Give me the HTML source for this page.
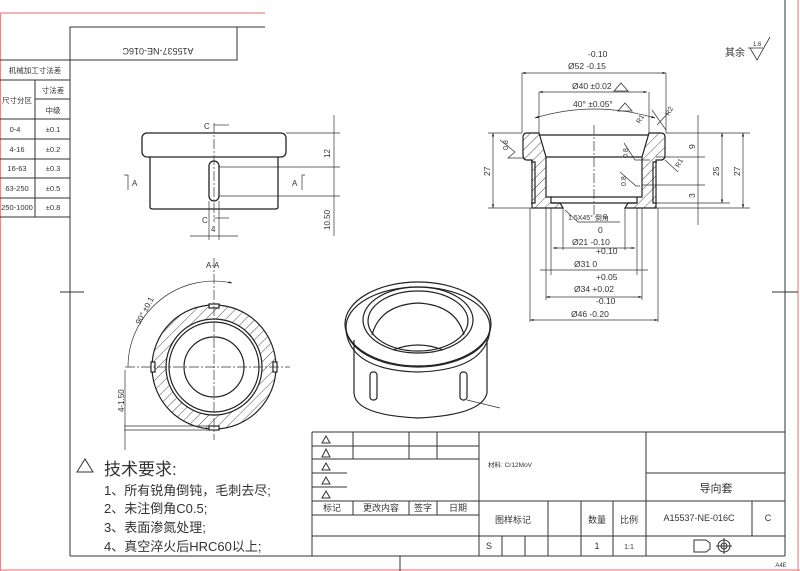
<!DOCTYPE html>
<html><head><meta charset="utf-8"><style>
body{margin:0;background:#fff;width:800px;height:571px;overflow:hidden}
svg{display:block}
text{font-family:"Liberation Sans","Noto Sans CJK SC",sans-serif;fill:#333}
</style></head><body>
<svg width="800" height="571" viewBox="0 0 800 571" xmlns="http://www.w3.org/2000/svg">
<defs>
<pattern id="h" patternUnits="userSpaceOnUse" width="7" height="7" patternTransform="rotate(45)">
<line x1="0" y1="0" x2="0" y2="7" stroke="#222" stroke-width="0.8"/></pattern>
<marker id="ar" viewBox="0 0 10 10" refX="10" refY="5" markerWidth="7" markerHeight="5" orient="auto-start-reverse"><path d="M0,2 L10,5 L0,8z" fill="#111"/></marker>
</defs>
<g fill="none" stroke="#e88" stroke-width="1.2">
<line x1="0" y1="13" x2="265" y2="13"/><line x1="0.5" y1="13" x2="0.5" y2="571"/>
<line x1="798" y1="0" x2="798" y2="571"/><line x1="0" y1="570" x2="800" y2="570"/>
</g>
<g fill="none" stroke="#333" stroke-width="1">
<!-- frame -->
<line x1="70" y1="27" x2="265" y2="27"/><line x1="70" y1="27" x2="70" y2="556"/>
<line x1="785" y1="0" x2="785" y2="556"/><line x1="70" y1="556" x2="785" y2="556"/>
<line x1="60" y1="292" x2="84" y2="292"/><line x1="772" y1="292" x2="798" y2="292"/>
<line x1="400" y1="556" x2="400" y2="571"/>
<rect x="70" y="27" width="167" height="33"/>
<!-- tolerance table -->
<line x1="0" y1="60" x2="70" y2="60"/><line x1="0" y1="80" x2="70" y2="80"/>
<line x1="35" y1="99" x2="70" y2="99"/>
<line x1="0" y1="119" x2="70" y2="119"/><line x1="0" y1="139" x2="70" y2="139"/>
<line x1="0" y1="159" x2="70" y2="159"/><line x1="0" y1="178" x2="70" y2="178"/>
<line x1="0" y1="198" x2="70" y2="198"/><line x1="0" y1="217" x2="70" y2="217"/>
<line x1="35" y1="80" x2="35" y2="217"/>
</g>
<g font-size="7.5" text-anchor="middle">
<text x="35" y="73">机械加工寸法差</text>
<text x="17" y="103">尺寸分区</text><text x="53" y="93">寸法差</text><text x="53" y="113">中级</text>
<text x="15" y="132">0-4</text><text x="53" y="132">±0.1</text>
<text x="17" y="152">4-16</text><text x="53" y="152">±0.2</text>
<text x="17" y="171">16-63</text><text x="53" y="171">±0.3</text>
<text x="17" y="191">63-250</text><text x="53" y="191">±0.5</text>
<text x="17" y="210">250-1000</text><text x="53" y="210">±0.8</text>
</g>
<text x="158" y="42" font-size="9" text-anchor="middle" transform="rotate(180 158 45)">A15537-NE-016C</text>

<!-- front view -->
<g fill="none" stroke="#222" stroke-width="1.3">
<rect x="142" y="133" width="144" height="24" rx="5"/>
<path d="M150,157 V207 Q150,209 153,209 H275 Q278,209 278,207 V157"/>
<rect x="209" y="161" width="10" height="40" rx="5"/>
</g>
<g fill="none" stroke="#333" stroke-width="0.7">
<line x1="214" y1="123" x2="214" y2="222" stroke-dasharray="10,2,2,2"/>
<path d="M214,125 H229"/><path d="M214,218 H229"/>
<line x1="286" y1="133" x2="340" y2="133"/><line x1="219" y1="167" x2="340" y2="167"/>
<line x1="219" y1="196" x2="340" y2="196"/>
<line x1="334" y1="115" x2="334" y2="236"/>
<line x1="209" y1="201" x2="209" y2="240"/><line x1="219" y1="201" x2="219" y2="240"/>
<line x1="190" y1="236" x2="238" y2="236"/>
<path d="M124,175 H128 V190"/><path d="M305,175 H302 V190"/>
</g>
<g font-size="8"><text x="204" y="129">C</text><text x="202" y="223">C</text>
<text x="132" y="186">A</text><text x="292" y="186">A</text><text x="211" y="232">4</text>
<text x="0" y="0" transform="translate(330,158) rotate(-90)">12</text>
<text x="0" y="0" transform="translate(330,230) rotate(-90)">10.50</text></g>

<!-- section view -->
<g stroke="#222" stroke-width="1.2">
<path fill="url(#h)" d="M527,133 H539 L546,157 V197 H551 V203 H560 L563,208 H532 V160 H527 Q523,160 523,155 V137 Q523,133 527,133Z"/>
<path fill="url(#h)" d="M661,133 H649 L642,157 V197 H637 V203 H628 L625,208 H656 V160 H661 Q665,160 665,155 V137 Q665,133 661,133Z"/>
<path fill="none" d="M539,135 H649 M546,157 H642 M551,197 H637 M551,203 H637"/>
<path fill="none" d="M531,162 H535 V203 H531"/><path fill="none" d="M657,162 H653 V203 H657"/>
</g>
<g fill="none" stroke="#333" stroke-width="0.7">
<line x1="594" y1="125" x2="594" y2="215" stroke-dasharray="10,2,2,2"/>
<line x1="522" y1="73" x2="522" y2="133"/><line x1="666" y1="73" x2="666" y2="133"/>
<line x1="522" y1="73" x2="666" y2="73" marker-start="url(#ar)" marker-end="url(#ar)"/>
<line x1="539" y1="92" x2="539" y2="133"/><line x1="649" y1="92" x2="649" y2="133"/>
<line x1="539" y1="92" x2="647" y2="92" marker-start="url(#ar)" marker-end="url(#ar)"/>
<path d="M535,118 Q594,100 655,118" marker-start="url(#ar)" marker-end="url(#ar)"/>
<line x1="488" y1="133" x2="522" y2="133"/><line x1="488" y1="208" x2="532" y2="208"/>
<line x1="493" y1="133" x2="493" y2="208" marker-start="url(#ar)" marker-end="url(#ar)"/>
<line x1="666" y1="133" x2="750" y2="133"/><line x1="656" y1="157" x2="705" y2="157"/>
<line x1="642" y1="185" x2="705" y2="185"/><line x1="656" y1="203" x2="730" y2="203"/>
<line x1="656" y1="208" x2="750" y2="208"/>
<line x1="698" y1="115" x2="698" y2="225"/>
<line x1="722" y1="133" x2="722" y2="203" marker-start="url(#ar)" marker-end="url(#ar)"/>
<line x1="743" y1="133" x2="743" y2="208" marker-start="url(#ar)" marker-end="url(#ar)"/>
<line x1="546" y1="208" x2="546" y2="300"/><line x1="642" y1="208" x2="642" y2="300"/>
<line x1="551" y1="208" x2="551" y2="275"/><line x1="637" y1="208" x2="637" y2="275"/>
<line x1="563" y1="208" x2="563" y2="250"/><line x1="625" y1="208" x2="625" y2="250"/>
<line x1="530" y1="208" x2="530" y2="322"/><line x1="658" y1="208" x2="658" y2="322"/>
<line x1="553" y1="248" x2="635" y2="248" marker-start="url(#ar)" marker-end="url(#ar)"/>
<line x1="540" y1="270" x2="648" y2="270"/>
<line x1="546" y1="297" x2="642" y2="297" marker-start="url(#ar)" marker-end="url(#ar)"/>
<line x1="530" y1="320" x2="658" y2="320" marker-start="url(#ar)" marker-end="url(#ar)"/>
<path d="M565,210 L578,222 H620"/>
<path d="M500,140 L515,152 L508,158 H525"/><path d="M624,143 L635,160 H650"/>
<path d="M620,172 L636,186 H640"/>
<line x1="652" y1="110" x2="666" y2="130"/><line x1="657" y1="125" x2="669" y2="112"/>
<line x1="665" y1="160" x2="678" y2="172"/>
</g>
<g font-size="8.5"><text x="588" y="57">-0.10</text><text x="568" y="69">Ø52 -0.15</text>
<text x="572" y="89">Ø40  ±0.02</text><text x="573" y="107">40°   ±0.05°</text>
<text x="568" y="220" font-size="7">1.5X45° 倒角</text>
<text x="598" y="233">0</text><text x="572" y="245">Ø21 -0.10</text>
<text x="596" y="254">+0.10</text><text x="574" y="267">Ø31  0</text>
<text x="596" y="280">+0.05</text><text x="574" y="292">Ø34 +0.02</text>
<text x="596" y="304">-0.10</text><text x="571" y="317">Ø46 -0.20</text>
<text x="0" y="0" transform="translate(490,176) rotate(-90)">27</text>
<text x="0" y="0" transform="translate(695,149) rotate(-90)">9</text>
<text x="0" y="0" transform="translate(695,198) rotate(-90)">3</text>
<text x="0" y="0" transform="translate(719,176) rotate(-90)">25</text>
<text x="0" y="0" transform="translate(740,176) rotate(-90)">27</text>
<text font-size="7" transform="translate(508,150) rotate(-90)">0.8</text>
<text font-size="7" transform="translate(628,158) rotate(-90)">0.8</text>
<text font-size="7" transform="translate(626,186) rotate(-90)">0.8</text>
<text font-size="7" transform="translate(640,124) rotate(-60)">R1</text>
<text font-size="7" transform="translate(669,116) rotate(-60)">R2</text>
<text font-size="7" transform="translate(679,168) rotate(-60)">R1</text>
<text x="725" y="56" font-size="10">其余</text><text x="753" y="46" font-size="6">1.6</text></g>
<g fill="none" stroke="#333" stroke-width="0.8">
<path d="M621,83 L628,91 H614Z"/><path d="M625,103 L632,111 H618Z"/>
<path d="M750,48 L757,60 L770,37 M748,48 H763"/>
</g>

<!-- section A-A -->
<text x="206" y="268" font-size="8">A-A</text>
<g stroke="#222" stroke-width="1.2">
<path fill="url(#h)" fill-rule="evenodd" d="M152,367 a62,62 0 1,0 124,0 a62,62 0 1,0 -124,0Z M166,367 a48,48 0 1,0 96,0 a48,48 0 1,0 -96,0Z"/>
<circle cx="214" cy="367" r="45" fill="#fff"/><circle cx="214" cy="367" r="30" fill="none"/>
<rect x="209" y="304" width="10" height="4" fill="#fff"/><rect x="209" y="426" width="10" height="4" fill="#fff"/>
<rect x="151" y="362" width="4" height="10" fill="#fff"/><rect x="273" y="362" width="4" height="10" fill="#fff"/>
</g>
<g fill="none" stroke="#333" stroke-width="0.7">
<line x1="214" y1="258" x2="214" y2="440" stroke-dasharray="10,2,2,2"/>
<line x1="125" y1="367" x2="290" y2="367" stroke-dasharray="10,2,2,2"/>
<path d="M128,367 A86,86 0 0,1 232,283" marker-end="url(#ar)"/>
<line x1="124" y1="426" x2="214" y2="426"/><line x1="124" y1="430" x2="214" y2="430"/>
<line x1="125" y1="370" x2="125" y2="450"/>
</g>
<text font-size="8" transform="translate(140,325) rotate(-62)">90° ±0.1</text>
<text font-size="8" transform="translate(124,412) rotate(-90)">4-1.50</text>

<!-- iso view -->
<g fill="none" stroke="#222" stroke-width="1.2">
<path d="M354,340 V393 Q355,415 418,418 Q482,415 487,393 V340"/>
<ellipse cx="418" cy="324" rx="73" ry="42"/><ellipse cx="418" cy="327" rx="72" ry="40"/>
<path d="M346,330 Q350,370 418,372 Q486,370 490,330"/>
<ellipse cx="418" cy="320" rx="55" ry="33"/><ellipse cx="418" cy="321" rx="50" ry="30"/>
<path d="M372,335 Q380,305 418,303 Q456,305 464,335"/>
<path d="M393,350 Q418,340 443,350"/>
<rect x="370" y="372" width="7" height="28" rx="3"/><rect x="460" y="372" width="7" height="28" rx="3"/>
</g>
<line x1="467" y1="400" x2="500" y2="408" stroke="#333" stroke-width="0.7"/>

<!-- tech req -->
<path d="M77,472 L85,459 L93,472Z" fill="none" stroke="#333"/>
<text x="104" y="475" font-size="17">技术要求:</text>
<g font-size="13"><text x="104" y="495">1、所有锐角倒钝，毛刺去尽;</text>
<text x="104" y="513">2、未注倒角C0.5;</text><text x="104" y="532">3、表面渗氮处理;</text>
<text x="104" y="551">4、真空淬火后HRC60以上;</text></g>

<!-- title block -->
<g fill="none" stroke="#333" stroke-width="1">
<line x1="312" y1="432" x2="785" y2="432"/><line x1="312" y1="432" x2="312" y2="556"/>
<line x1="312" y1="446" x2="479" y2="446"/><line x1="312" y1="459" x2="479" y2="459"/>
<line x1="312" y1="473" x2="347" y2="473"/><line x1="312" y1="487" x2="347" y2="487"/>
<line x1="312" y1="501" x2="785" y2="501"/><line x1="312" y1="515" x2="479" y2="515"/>
<line x1="312" y1="536" x2="479" y2="536"/><line x1="479" y1="536" x2="785" y2="536"/>
<line x1="646" y1="473" x2="785" y2="473"/>
<line x1="353" y1="432" x2="353" y2="459"/><line x1="409" y1="432" x2="409" y2="459"/><line x1="437" y1="432" x2="437" y2="459"/>
<line x1="353" y1="501" x2="353" y2="515"/><line x1="409" y1="501" x2="409" y2="515"/><line x1="437" y1="501" x2="437" y2="515"/>
<line x1="479" y1="432" x2="479" y2="556"/><line x1="646" y1="432" x2="646" y2="556"/>
<line x1="548" y1="501" x2="548" y2="556"/><line x1="581" y1="501" x2="581" y2="556"/>
<line x1="613" y1="501" x2="613" y2="556"/><line x1="752" y1="501" x2="752" y2="536"/>
<line x1="502" y1="536" x2="502" y2="556"/><line x1="525" y1="536" x2="525" y2="556"/>
<path d="M326,436 L330,443 H322Z M326,449 L330,457 H322Z M326,463 L330,470 H322Z M326,477 L330,484 H322Z M326,491 L330,498 H322Z"/>
<path d="M694,540 H706 L710,543 V549 L706,552 H694Z"/><circle cx="724" cy="546" r="6"/><circle cx="724" cy="546" r="3"/>
<line x1="716" y1="546" x2="732" y2="546"/><line x1="724" y1="538" x2="724" y2="554"/>
</g>
<g font-size="9" text-anchor="middle">
<text x="510" y="467" font-size="6.5">材料:     Cr12MoV</text>
<text x="716" y="492" font-size="11">导向套</text>
<text x="332" y="511">标记</text><text x="381" y="511">更改内容</text><text x="423" y="511">签字</text><text x="458" y="511">日期</text>
<text x="513" y="523">图样标记</text><text x="597" y="523">数量</text><text x="629" y="523">比例</text>
<text x="699" y="521">A15537-NE-016C</text><text x="768" y="521">C</text>
<text x="489" y="549">S</text><text x="597" y="549">1</text><text x="629" y="549" font-size="7">1:1</text>
<text x="781" y="567" font-size="6">A4E</text>
</g>
</svg>
</body></html>
